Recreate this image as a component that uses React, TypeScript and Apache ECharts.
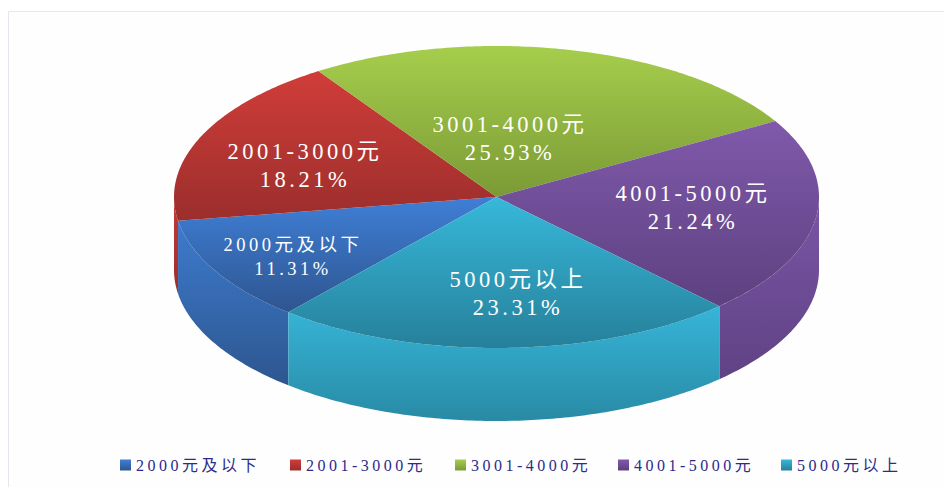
import React, { useEffect, useRef } from "react";
import * as echarts from "echarts";

const categories = ["2000元及以下", "2001-3000元", "3001-4000元", "4001-5000元", "5000元以上"];
const shares = [11.31, 18.21, 25.93, 21.24, 23.31];
const startAngle = 220.2; // degrees clockwise from top

const topColors = [
  ["#3f7fd6", "#2e5590"],
  ["#d03d39", "#9b2e2c"],
  ["#a6ce4c", "#7b9a36"],
  ["#8059ab", "#5d4180"],
  ["#37b8da", "#26809a"],
];
const sideColors = [
  ["#3d7bce", "#2d568f"],
  ["#c43a36", "#9b2e2c"],
  ["#a6ce4c", "#7b9a36"],
  ["#7a56a5", "#5f4284"],
  ["#37b5d8", "#288aa5"],
];
const labelAnchors = [
  { x: 293, y: 257, size: 18.5, line: 24 },
  { x: 305, y: 165, size: 22.5, line: 28 },
  { x: 510, y: 138.5, size: 22.5, line: 28 },
  { x: 693, y: 207, size: 22.5, line: 28 },
  { x: 518, y: 293, size: 22.5, line: 28 },
];
const legendLefts = [120, 290, 455, 618, 781];

const CX = 496.5;
const CY = 197;
const RX = 322.5;
const RY = 151;
const DEPTH = 73;
const FONT = '"Liberation Serif","Noto Sans CJK SC",serif';

const grad = (c: string[]) =>
  new echarts.graphic.LinearGradient(0, 0, 0, 1, [
    { offset: 0, color: c[0] },
    { offset: 1, color: c[1] },
  ]);

const pt = (deg: number, dy = 0): number[] => {
  const r = (deg * Math.PI) / 180;
  return [CX + RX * Math.sin(r), CY - RY * Math.cos(r) + dy];
};

const arc = (a: number, b: number, dy = 0): number[][] => {
  const out: number[][] = [];
  const n = Math.max(2, Math.ceil((b - a) / 0.75));
  for (let i = 0; i <= n; i++) out.push(pt(a + ((b - a) * i) / n, dy));
  return out;
};

const sliceStart = (idx: number) => {
  let s = startAngle;
  for (let i = 0; i < idx; i++) s += (shares[i] / 100) * 360;
  return s;
};

const visibleSide = (a: number, b: number): number[][] => {
  for (const k of [0, 360]) {
    const lo = Math.max(a, 90 + k);
    const hi = Math.min(b, 270 + k);
    if (hi > lo) return [[lo, hi]];
  }
  return [];
};

const makeRenderItem = (idx: number) => (_params: any, api: any) => {
  const value = api.value(0) as number;
  const a = sliceStart(idx);
  const b = a + (value / 100) * 360;
  const children: any[] = [];
  visibleSide(a, b).forEach(([lo, hi]) => {
    children.push({
      type: "polygon",
      shape: { points: [...arc(lo, hi), ...arc(lo, hi, DEPTH).reverse()] },
      style: { fill: grad(sideColors[idx]) },
    });
  });
  children.push({
    type: "polygon",
    shape: { points: [[CX, CY], ...arc(a, b)] },
    style: { fill: grad(topColors[idx]) },
  });
  const l = labelAnchors[idx];
  children.push({
    type: "text",
    x: l.x,
    y: l.y,
    z2: 10,
    style: {
      text: `${categories[idx]}\n${value.toFixed(2)}%`,
      fill: "#ffffff",
      font: `${l.size}px ${FONT}`,
      lineHeight: l.line,
      align: "center",
      verticalAlign: "middle",
    },
  });
  return { type: "group", children };
};

export default function App() {
  const ref = useRef<HTMLDivElement>(null);
  useEffect(() => {
    const chart = echarts.init(ref.current!, undefined, { renderer: "svg" });
    chart.setOption({
      animation: false,
      backgroundColor: "#ffffff",
      graphic: [
        {
          type: "rect",
          silent: true,
          z: -1,
          shape: { x: 8.5, y: 11.5, width: 960, height: 500 },
          style: { fill: "#fefefe", stroke: "#e6e6f0", lineWidth: 1 },
        },
      ],
      legend: categories.map((name, i) => ({
        icon: "rect",
        left: legendLefts[i],
        top: 457,
        padding: 0,
        itemWidth: 11,
        itemHeight: 11,
        data: [name],
        textStyle: { fontSize: 16, fontFamily: FONT, color: "#2b2b8a" },
      })),
      series: categories.map((name, i) => ({
        type: "custom",
        name,
        coordinateSystem: "none",
        silent: true,
        itemStyle: { color: grad(topColors[i]) },
        data: [[shares[i]]],
        renderItem: makeRenderItem(i),
      })),
    });
    return () => chart.dispose();
  }, []);
  return (
    <div
      ref={ref}
      style={{
        position: "absolute",
        left: 0,
        top: 0,
        width: 944,
        height: 487,
        overflow: "hidden",
        letterSpacing: "3.5px",
      }}
    />
  );
}
